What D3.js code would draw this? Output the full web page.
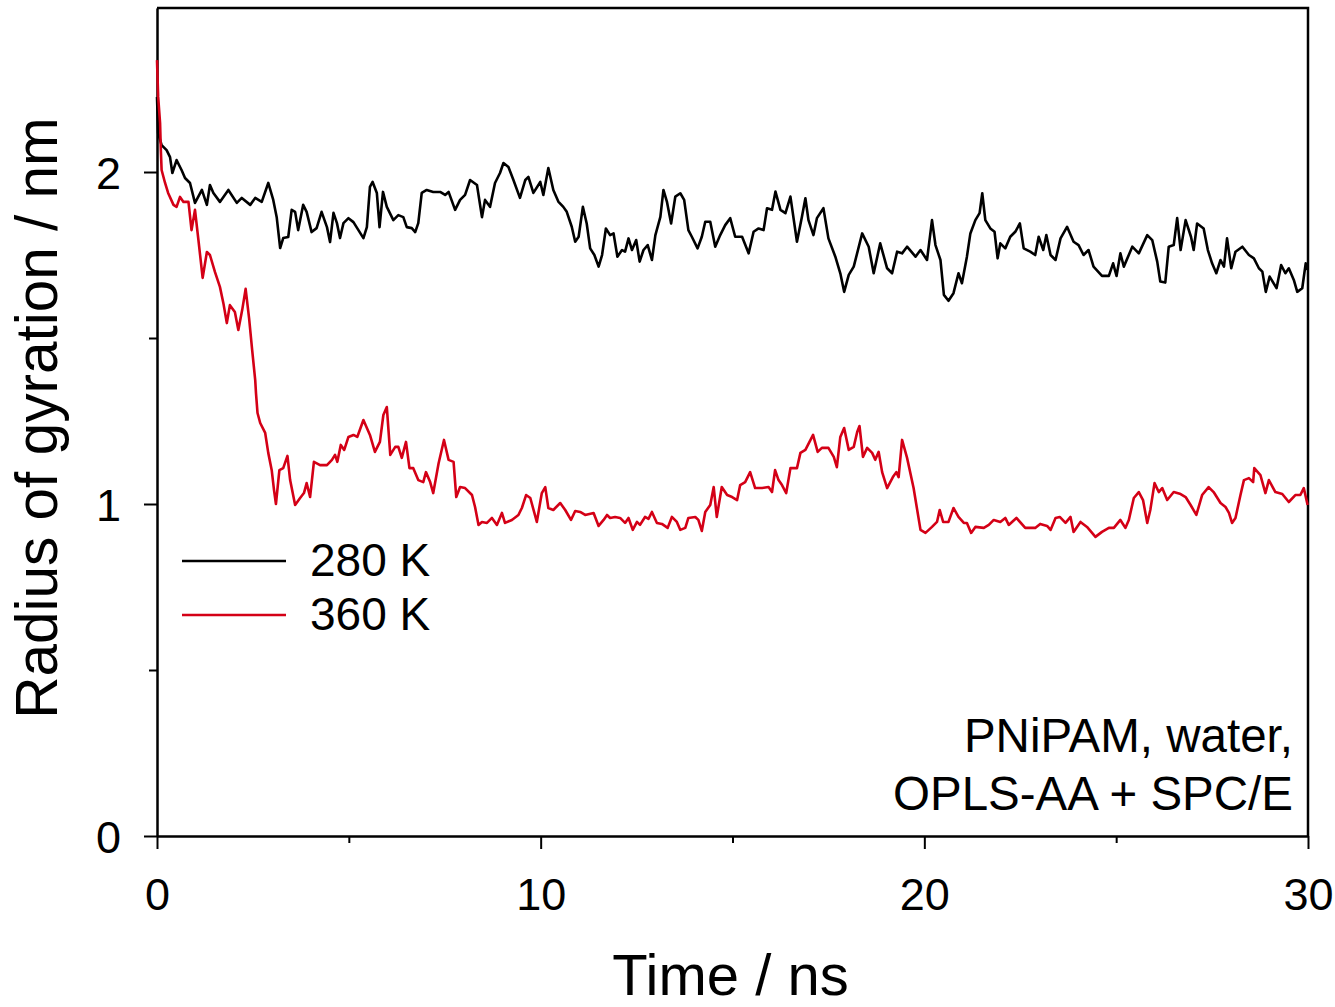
<html>
<head>
  <meta charset="utf-8">
  <title>Radius of gyration</title>
  <style type="text/css">
    body { margin: 0; background: #ffffff; }
    .line280 { fill: none; stroke: #000000; stroke-width: 2.6; stroke-linejoin: round; }
    .line360 { fill: none; stroke: #d40016; stroke-width: 2.6; stroke-linejoin: round; }
    .axis path, .axis line { stroke: #000000; stroke-width: 2; }
    text { font-family: "Liberation Sans", Arial, sans-serif; fill: #000000; }
  </style>
</head>
<body>
<script src="https://d3js.org/d3.v7.min.js"></script>
<script>
  // 280 K run (time in ns, Rg in nm)
  var time280 = [0, 0.03, 0.12, 0.25, 0.34, 0.40, 0.51, 0.64, 0.73, 0.86, 0.99, 1.17, 1.30, 1.38, 1.47, 1.64, 1.86, 2.08, 2.21, 2.43,
    2.56, 2.73, 2.90, 3.03, 3.12, 3.21, 3.29, 3.42, 3.51, 3.60, 3.68, 3.81, 3.90, 4.03, 4.16, 4.29, 4.43, 4.51, 4.60, 4.69,
    4.77, 4.86, 4.99, 5.12, 5.25, 5.38, 5.47, 5.55, 5.62, 5.73, 5.80, 5.89, 5.99, 6.16, 6.29, 6.42, 6.51, 6.64, 6.73, 6.81,
    6.90, 7.03, 7.20, 7.38, 7.51, 7.60, 7.77, 7.90, 8.03, 8.16, 8.34, 8.47, 8.55, 8.68, 8.81, 8.94, 9.03, 9.16, 9.29, 9.46,
    9.60, 9.68, 9.81, 9.99, 10.07, 10.20, 10.33, 10.46, 10.59, 10.68, 10.81, 10.90, 10.99, 11.10, 11.20, 11.29, 11.40, 11.51, 11.60, 11.70,
    11.81, 11.90, 12.00, 12.12, 12.20, 12.29, 12.38, 12.49, 12.58, 12.68, 12.79, 12.90, 12.99, 13.12, 13.20, 13.29, 13.40, 13.51, 13.64, 13.74,
    13.85, 13.94, 14.09, 14.20, 14.29, 14.42, 14.55, 14.68, 14.81, 14.94, 15.07, 15.25, 15.42, 15.55, 15.68, 15.81, 15.90, 16.03, 16.12, 16.25,
    16.38, 16.51, 16.68, 16.81, 16.90, 16.98, 17.11, 17.20, 17.37, 17.50, 17.68, 17.81, 17.91, 18.03, 18.16, 18.38, 18.55, 18.68, 18.85, 19.03,
    19.16, 19.29, 19.42, 19.55, 19.77, 19.90, 20.07, 20.20, 20.29, 20.42, 20.51, 20.63, 20.76, 20.89, 20.98, 21.11, 21.20, 21.33, 21.44, 21.51,
    21.59, 21.72, 21.83, 21.91, 21.98, 22.11, 22.24, 22.37, 22.49, 22.59, 22.76, 22.89, 22.98, 23.10, 23.18, 23.29, 23.42, 23.55, 23.72, 23.89,
    24.02, 24.15, 24.28, 24.41, 24.63, 24.81, 24.92, 25.01, 25.11, 25.20, 25.42, 25.59, 25.81, 25.94, 26.07, 26.15, 26.28, 26.37, 26.50, 26.59,
    26.68, 26.81, 26.95, 27.02, 27.11, 27.28, 27.39, 27.50, 27.61, 27.72, 27.81, 27.89, 28.00, 28.11, 28.29, 28.46, 28.59, 28.72, 28.81, 28.90,
    29.00, 29.18, 29.30, 29.41, 29.50, 29.63, 29.72, 29.85, 29.94, 29.98];
  var rg280 = [2.226, 2.117, 2.081, 2.066, 2.045, 1.997, 2.036, 2.006, 1.982, 1.967, 1.907, 1.946, 1.901, 1.961, 1.937, 1.910, 1.946, 1.907, 1.922, 1.901,
    1.922, 1.910, 1.967, 1.916, 1.864, 1.771, 1.801, 1.804, 1.886, 1.880, 1.825, 1.901, 1.880, 1.819, 1.831, 1.880, 1.834, 1.789, 1.877, 1.846,
    1.801, 1.846, 1.861, 1.849, 1.825, 1.801, 1.834, 1.955, 1.970, 1.937, 1.834, 1.940, 1.895, 1.855, 1.870, 1.864, 1.834, 1.831, 1.819, 1.846,
    1.937, 1.946, 1.940, 1.940, 1.931, 1.940, 1.886, 1.916, 1.931, 1.976, 1.961, 1.864, 1.916, 1.895, 1.967, 1.997, 2.027, 2.015, 1.976, 1.922,
    1.976, 1.985, 1.937, 1.970, 1.931, 2.012, 1.946, 1.911, 1.895, 1.880, 1.835, 1.790, 1.805, 1.895, 1.845, 1.770, 1.750, 1.715, 1.750, 1.830,
    1.810, 1.815, 1.745, 1.765, 1.760, 1.800, 1.765, 1.795, 1.730, 1.765, 1.780, 1.735, 1.810, 1.865, 1.946, 1.911, 1.845, 1.926, 1.936, 1.916,
    1.825, 1.805, 1.770, 1.805, 1.850, 1.850, 1.775, 1.810, 1.840, 1.861, 1.805, 1.805, 1.755, 1.820, 1.830, 1.825, 1.891, 1.886, 1.941, 1.886,
    1.876, 1.926, 1.790, 1.865, 1.921, 1.855, 1.810, 1.861, 1.891, 1.800, 1.745, 1.695, 1.639, 1.690, 1.715, 1.815, 1.775, 1.695, 1.785, 1.710,
    1.695, 1.760, 1.755, 1.775, 1.745, 1.765, 1.735, 1.855, 1.780, 1.735, 1.630, 1.612, 1.635, 1.695, 1.665, 1.745, 1.815, 1.855, 1.876, 1.936,
    1.855, 1.830, 1.820, 1.740, 1.785, 1.770, 1.805, 1.820, 1.845, 1.770, 1.760, 1.750, 1.805, 1.765, 1.810, 1.750, 1.735, 1.800, 1.835, 1.790,
    1.780, 1.750, 1.765, 1.715, 1.687, 1.687, 1.725, 1.687, 1.755, 1.715, 1.775, 1.755, 1.810, 1.795, 1.730, 1.670, 1.667, 1.775, 1.780, 1.861,
    1.765, 1.855, 1.805, 1.765, 1.845, 1.830, 1.765, 1.725, 1.695, 1.735, 1.715, 1.800, 1.710, 1.760, 1.775, 1.750, 1.740, 1.710, 1.700, 1.639,
    1.685, 1.650, 1.720, 1.695, 1.710, 1.675, 1.639, 1.650, 1.725, 1.705];

  // 360 K run
  var time360 = [0, 0.03, 0.08, 0.10, 0.12, 0.21, 0.29, 0.43, 0.51, 0.60, 0.69, 0.82, 0.90, 0.99, 1.08, 1.19, 1.30, 1.38, 1.51, 1.64,
    1.73, 1.82, 1.90, 2.03, 2.12, 2.22, 2.31, 2.40, 2.48, 2.56, 2.58, 2.62, 2.69, 2.82, 2.90, 2.99, 3.05, 3.10, 3.19, 3.29,
    3.40, 3.47, 3.60, 3.73, 3.83, 3.90, 3.99, 4.09, 4.25, 4.43, 4.56, 4.64, 4.70, 4.79, 4.88, 4.99, 5.12, 5.22, 5.38, 5.55,
    5.68, 5.81, 5.90, 5.99, 6.08, 6.21, 6.29, 6.38, 6.49, 6.58, 6.68, 6.81, 6.94, 7.01, 7.12, 7.20, 7.34, 7.48, 7.60, 7.73,
    7.80, 7.90, 8.03, 8.21, 8.29, 8.38, 8.47, 8.60, 8.73, 8.86, 8.99, 9.07, 9.25, 9.42, 9.51, 9.62, 9.73, 9.90, 10.03, 10.12,
    10.20, 10.33, 10.51, 10.64, 10.79, 10.90, 11.03, 11.16, 11.38, 11.51, 11.64, 11.73, 11.81, 11.94, 12.07, 12.20, 12.29, 12.40, 12.51, 12.59,
    12.72, 12.81, 12.90, 13.03, 13.16, 13.31, 13.42, 13.55, 13.64, 13.77, 13.85, 14.03, 14.11, 14.20, 14.29, 14.42, 14.51, 14.59, 14.72, 14.86,
    14.99, 15.12, 15.20, 15.33, 15.46, 15.59, 15.77, 15.94, 16.03, 16.11, 16.20, 16.29, 16.40, 16.51, 16.68, 16.77, 16.90, 17.10, 17.22, 17.33,
    17.50, 17.64, 17.72, 17.81, 17.91, 18.03, 18.16, 18.25, 18.31, 18.40, 18.51, 18.64, 18.72, 18.81, 18.90, 19.03, 19.18, 19.27, 19.33, 19.42,
    19.55, 19.72, 19.90, 20.03, 20.20, 20.33, 20.40, 20.49, 20.63, 20.76, 20.89, 21.03, 21.11, 21.22, 21.33, 21.55, 21.68, 21.81, 21.98, 22.11,
    22.20, 22.40, 22.63, 22.89, 23.02, 23.20, 23.29, 23.42, 23.53, 23.68, 23.81, 23.89, 24.07, 24.24, 24.46, 24.63, 24.81, 24.94, 25.11, 25.24,
    25.33, 25.46, 25.59, 25.70, 25.81, 25.89, 26.00, 26.11, 26.20, 26.33, 26.50, 26.68, 26.81, 26.94, 27.09, 27.24, 27.41, 27.54, 27.72, 27.85,
    27.94, 28.02, 28.11, 28.24, 28.33, 28.46, 28.57, 28.60, 28.76, 28.89, 28.98, 29.15, 29.33, 29.50, 29.67, 29.80, 29.89, 29.99];
  var rg360 = [2.337, 2.227, 2.148, 2.066, 2.006, 1.967, 1.937, 1.901, 1.895, 1.925, 1.910, 1.910, 1.825, 1.886, 1.795, 1.681, 1.759, 1.750, 1.699, 1.654,
    1.605, 1.545, 1.599, 1.578, 1.524, 1.584, 1.648, 1.560, 1.464, 1.373, 1.334, 1.274, 1.244, 1.214, 1.154, 1.102, 1.042, 1.000, 1.102, 1.108,
    1.145, 1.072, 0.997, 1.018, 1.033, 1.063, 1.021, 1.127, 1.117, 1.117, 1.133, 1.148, 1.127, 1.178, 1.163, 1.202, 1.208, 1.202, 1.253, 1.208,
    1.157, 1.187, 1.268, 1.292, 1.148, 1.172, 1.172, 1.139, 1.187, 1.108, 1.108, 1.072, 1.066, 1.096, 1.066, 1.033, 1.123, 1.193, 1.133, 1.127,
    1.021, 1.051, 1.048, 1.027, 0.991, 0.937, 0.946, 0.943, 0.958, 0.937, 0.973, 0.943, 0.952, 0.967, 0.988, 1.027, 1.018, 0.946, 1.033, 1.051,
    0.988, 0.982, 1.003, 0.982, 0.952, 0.979, 0.976, 0.967, 0.973, 0.934, 0.952, 0.967, 0.958, 0.961, 0.958, 0.943, 0.958, 0.922, 0.946, 0.937,
    0.961, 0.955, 0.976, 0.943, 0.940, 0.928, 0.961, 0.946, 0.922, 0.928, 0.958, 0.961, 0.952, 0.919, 0.976, 0.997, 1.051, 0.961, 1.051, 1.027,
    1.021, 1.012, 1.057, 1.066, 1.096, 1.048, 1.048, 1.051, 1.036, 1.102, 1.072, 1.057, 1.033, 1.108, 1.108, 1.154, 1.163, 1.208, 1.157, 1.169,
    1.169, 1.142, 1.111, 1.202, 1.229, 1.163, 1.172, 1.217, 1.235, 1.142, 1.169, 1.154, 1.133, 1.157, 1.096, 1.048, 1.081, 1.096, 1.081, 1.193,
    1.139, 1.048, 0.922, 0.913, 0.931, 0.946, 0.982, 0.946, 0.946, 0.988, 0.961, 0.943, 0.943, 0.913, 0.931, 0.928, 0.937, 0.952, 0.946, 0.958,
    0.937, 0.958, 0.928, 0.928, 0.940, 0.934, 0.922, 0.958, 0.961, 0.943, 0.961, 0.916, 0.946, 0.931, 0.901, 0.916, 0.928, 0.928, 0.952, 0.928,
    0.952, 1.018, 1.036, 1.012, 0.943, 0.982, 1.063, 1.036, 1.048, 1.012, 1.036, 1.030, 1.021, 0.997, 0.967, 1.027, 1.051, 1.036, 1.003, 0.991,
    0.973, 0.943, 0.958, 1.027, 1.072, 1.078, 1.066, 1.108, 1.087, 1.033, 1.072, 1.036, 1.030, 1.006, 1.027, 1.027, 1.048, 0.997];

  var xMajor = [0, 10, 20, 30];
  var xMinor = [5, 15, 25];
  var yMajor = [0, 1, 2];
  var yMinor = [0.5, 1.5];
  var legendLabels = ["280 K", "360 K"];
  var noteLines = ["PNiPAM, water,", "OPLS-AA + SPC/E"];

  var margin = { top: 8, right: 27, bottom: 171, left: 157 }
    , width = 1335 - margin.left - margin.right
    , height = 1007 - margin.top - margin.bottom;

  var xScale = d3.scaleLinear().domain([0, 30]).range([0, width]);
  var yScale = d3.scaleLinear().domain([0, 2.494]).range([height, 0]);

  var svg = d3.select("body").append("svg")
    .attr("width", 1335)
    .attr("height", 1007)
    .append("g")
    .attr("transform", "translate(" + margin.left + "," + margin.top + ")");

  // top and right frame
  svg.append("path")
    .attr("d", "M0,0H" + width + "V" + height)
    .attr("fill", "none")
    .attr("stroke", "#000")
    .attr("stroke-width", 2.5);

  var xAxis = svg.append("g")
    .attr("class", "x axis")
    .attr("transform", "translate(0," + height + ")")
    .call(d3.axisBottom(xScale).tickValues(xMajor).tickSize(13).tickSizeOuter(0).tickPadding(29).tickFormat(d3.format("d")));
  svg.append("g")
    .attr("class", "x axis")
    .attr("transform", "translate(0," + height + ")")
    .call(d3.axisBottom(xScale).tickValues(xMinor).tickSize(7).tickSizeOuter(0).tickFormat(""));

  var yAxis = svg.append("g")
    .attr("class", "y axis")
    .call(d3.axisLeft(yScale).tickValues(yMajor).tickSize(13).tickSizeOuter(0).tickPadding(23).tickFormat(d3.format("d")));
  svg.append("g")
    .attr("class", "y axis")
    .call(d3.axisLeft(yScale).tickValues(yMinor).tickSize(8).tickSizeOuter(0).tickFormat(""));

  svg.selectAll(".axis text")
    .attr("font-family", "Liberation Sans, Arial, sans-serif")
    .attr("font-size", 45)
    .attr("fill", "#000");
  yAxis.selectAll("text").attr("dy", "0.36em");

  var line = d3.line()
    .x(function (d) { return xScale(d[0]); })
    .y(function (d) { return yScale(d[1]); });

  var data280 = time280.map(function (t, i) { return [t, rg280[i]]; });
  var data360 = time360.map(function (t, i) { return [t, rg360[i]]; });

  svg.append("path").datum(data280).attr("class", "line280").attr("d", line);
  svg.append("path").datum(data360).attr("class", "line360").attr("d", line);

  // axis titles
  svg.append("text")
    .attr("x", xScale(15) - 2)
    .attr("y", 995 - margin.top)
    .attr("text-anchor", "middle")
    .attr("font-size", 58)
    .text("Time / ns");
  svg.append("text")
    .attr("transform", "translate(" + (57 - margin.left) + "," + (418 - margin.top) + ") rotate(-90)")
    .attr("text-anchor", "middle")
    .attr("font-size", 58.5)
    .text("Radius of gyration / nm");

  // legend
  var legendColors = ["#000000", "#d40016"];
  var legend = svg.append("g").attr("transform", "translate(" + (182 - margin.left) + "," + (561 - margin.top) + ")");
  legendLabels.forEach(function (lab, i) {
    legend.append("line")
      .attr("x1", 0).attr("x2", 104)
      .attr("y1", i * 54).attr("y2", i * 54)
      .attr("stroke", legendColors[i])
      .attr("stroke-width", 2.5);
    legend.append("text")
      .attr("x", 128)
      .attr("y", i * 54 + 15)
      .attr("font-size", 46)
      .text(lab);
  });

  // annotation
  noteLines.forEach(function (s, i) {
    svg.append("text")
      .attr("x", width - 15)
      .attr("y", 744 + i * 58)
      .attr("text-anchor", "end")
      .attr("font-size", 47.5)
      .text(s);
  });
</script>
</body>
</html>
